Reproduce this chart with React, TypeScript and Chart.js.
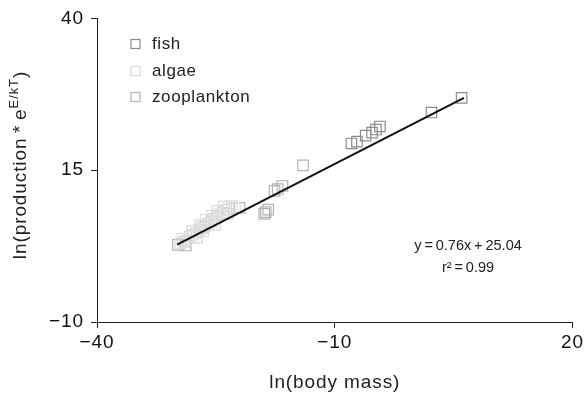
import React, { useEffect, useRef } from 'react';
import { Chart, registerables } from 'chart.js';
Chart.register(...registerables);

const fishX = [6.0, 2.2, -4.3, -4.8, -5.3, -6.1, -7.2, -7.9];
const fishY = [26.9, 24.5, 22.2, 21.7, 21.2, 20.7, 19.7, 19.4];

const algaeX = [-29.5, -29.0, -28.7, -29.2, -28.3, -27.9, -27.5, -28.0, -27.1, -26.8, -26.4, -27.0, -26.0, -25.6, -26.3, -25.3, -24.9, -25.5, -24.5, -24.1, -24.8, -23.7, -23.4, -24.0, -23.0, -22.6, -23.5, -25.1, -26.6, -27.4];
const algaeY = [2.9, 3.2, 3.4, 3.7, 4.1, 4.4, 4.7, 5.0, 5.2, 5.5, 5.7, 5.9, 6.2, 6.5, 6.8, 7.0, 7.3, 7.5, 7.7, 8.0, 8.3, 8.5, 8.6, 9.0, 9.1, 8.8, 7.8, 6.0, 4.9, 3.9];

const zooX = [-14.0, -16.6, -17.2, -17.6, -18.7, -18.4, -18.9, -22.0, -29.8, -28.8];
const zooY = [15.8, 12.4, 11.9, 11.6, 8.1, 8.5, 7.8, 8.8, 2.7, 2.6];

const fitX = [-29.9, 6.3];
const fitY = [2.75, 26.9];

const seriesNames = ['fish', 'algae', 'zooplankton'];
const seriesColors = ['#8c8c8c', '#dadada', '#b2b2b2'];

const xTicks = [-40, -10, 20];
const yTicks = [-10, 15, 40];

const FONT = '"Liberation Sans", Arial, Helvetica, sans-serif';
const SPACING = '0.9px';

const pts = (xs: number[], ys: number[]) => xs.map((x, i) => ({ x, y: ys[i] }));
const minus = (v: number) => String(v).replace('-', '\u2212');

export default function App() {
  const ref = useRef<HTMLCanvasElement | null>(null);
  useEffect(() => {
    if (!ref.current) return;
    const spacing = {
      id: 'spacing',
      beforeUpdate(chart: any) { chart.ctx.letterSpacing = SPACING; },
      beforeLayout(chart: any) { chart.ctx.letterSpacing = SPACING; },
      beforeDraw(chart: any) { chart.ctx.letterSpacing = SPACING; },
    };
    const overlay = {
      id: 'overlay',
      afterDraw(chart: any) {
        const ctx = chart.ctx;
        ctx.save();
        // legend
        ctx.letterSpacing = '0.6px';
        ctx.font = `17px ${FONT}`;
        ctx.textBaseline = 'middle';
        ctx.textAlign = 'left';
        const ly = [44, 71, 97];
        seriesNames.forEach((n, i) => {
          ctx.strokeStyle = seriesColors[i];
          ctx.lineWidth = 1.2;
          ctx.strokeRect(131, ly[i] - 4.5, 9, 9);
          ctx.fillStyle = '#222';
          ctx.fillText(n, 152, ly[i]);
        });
        // equation
        ctx.letterSpacing = '0px';
        ctx.textAlign = 'center';
        ctx.font = `14.5px ${FONT}`;
        ctx.fillStyle = '#222';
        ctx.fillText('y\u2009=\u20090.76x\u2009+\u200925.04', 468, 246);
        ctx.fillText('r\u00b2\u2009=\u20090.99', 468, 268);
        // y title
        ctx.letterSpacing = SPACING;
        ctx.translate(26, 165);
        ctx.rotate(-Math.PI / 2);
        const main = 'ln(production\u2009*\u2009e';
        const sup = 'E/kT';
        const end = ')';
        ctx.font = `19px ${FONT}`;
        const w1 = ctx.measureText(main).width;
        const w3 = ctx.measureText(end).width;
        ctx.font = `13px ${FONT}`;
        const w2 = ctx.measureText(sup).width;
        const x0 = -(w1 + w2 + w3) / 2;
        ctx.textAlign = 'left';
        ctx.textBaseline = 'alphabetic';
        ctx.fillStyle = '#222';
        ctx.font = `19px ${FONT}`;
        ctx.fillText(main, x0, 0);
        ctx.font = `13px ${FONT}`;
        ctx.fillText(sup, x0 + w1, -8);
        ctx.font = `19px ${FONT}`;
        ctx.fillText(end, x0 + w1 + w2, 0);
        ctx.restore();
      },
    };
    const gridOpts = { display: true, drawOnChartArea: false, drawTicks: true, tickLength: 6, color: '#222', lineWidth: 1 };
    const chart = new Chart(ref.current, {
      type: 'scatter',
      data: {
        datasets: [
          {
            type: 'line',
            label: 'fit',
            data: pts(fitX, fitY),
            borderColor: '#111',
            borderWidth: 2,
            pointRadius: 0,
            order: 0,
          } as any,
          ...[pts(fishX, fishY), pts(algaeX, algaeY), pts(zooX, zooY)].map((d, i) => ({
            label: seriesNames[i],
            data: d,
            pointStyle: 'rect',
            pointRadius: 7.4,
            borderColor: seriesColors[i],
            backgroundColor: 'rgba(255,255,255,0)',
            borderWidth: 1.2,
            order: 1,
          })),
        ],
      },
      options: {
        responsive: false,
        animation: false,
        layout: { padding: { top: 16, right: 14, left: 0, bottom: 0 } },
        plugins: { legend: { display: false }, tooltip: { enabled: false } },
        scales: {
          x: {
            type: 'linear',
            min: -40,
            max: 20,
            afterBuildTicks: (s: any) => { s.ticks = xTicks.map((v) => ({ value: v })); },
            afterFit: (s: any) => { s.height = 76; },
            grid: gridOpts,
            border: { display: true, color: '#222', width: 1 },
            ticks: { color: '#111', font: { size: 19, family: FONT }, padding: 3, maxRotation: 0, callback: (v: any) => minus(v) },
            title: { display: true, text: 'ln(body mass)', color: '#222', font: { size: 19, family: FONT }, padding: { top: 9 } },
          },
          y: {
            type: 'linear',
            min: -10,
            max: 40,
            afterBuildTicks: (s: any) => { s.ticks = yTicks.map((v) => ({ value: v })); },
            afterFit: (s: any) => { s.width = 97; },
            grid: gridOpts,
            border: { display: true, color: '#222', width: 1 },
            ticks: { color: '#111', font: { size: 19, family: FONT }, padding: 7, callback: (v: any) => minus(v) },
          },
        },
      },
      plugins: [spacing, overlay],
    } as any);
    return () => chart.destroy();
  }, []);
  return (
    <div style={{ position: 'fixed', left: 0, top: 0, width: 587, height: 398, background: '#fff' }}>
      <canvas ref={ref} width={587} height={398} style={{ width: 587, height: 398 }} />
    </div>
  );
}
